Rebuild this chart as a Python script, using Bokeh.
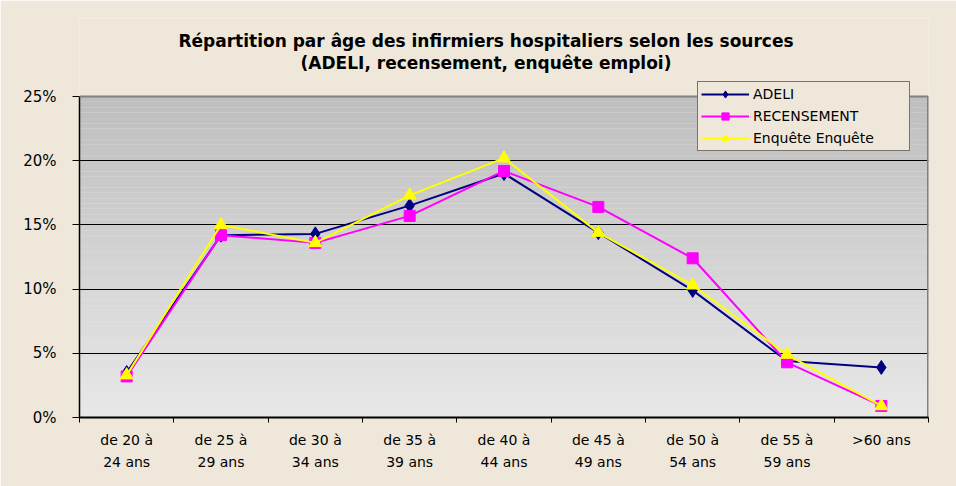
import numpy as np
from bokeh.plotting import figure
from bokeh.models import (FixedTicker, PrintfTickFormatter, Legend, LegendItem, Label, Span, Range1d)
from bokeh.embed import file_html
from bokeh.resources import INLINE

# ---- data ----
categories = ["de 20 à 24 ans", "de 25 à 29 ans", "de 30 à 34 ans", "de 35 à 39 ans",
              "de 40 à 44 ans", "de 45 à 49 ans", "de 50 à 54 ans", "de 55 à 59 ans", ">60 ans"]
tick_labels = ["de 20 à\n24 ans", "de 25 à\n29 ans", "de 30 à\n34 ans", "de 35 à\n39 ans",
               "de 40 à\n44 ans", "de 45 à\n49 ans", "de 50 à\n54 ans", "de 55 à\n59 ans", ">60 ans"]
adeli = [3.5, 14.2, 14.3, 16.5, 19.0, 14.4, 9.9, 4.4, 3.9]
recensement = [3.2, 14.2, 13.6, 15.7, 19.2, 16.4, 12.4, 4.3, 0.9]
enquete = [3.3, 15.0, 13.6, 17.3, 20.2, 14.4, 10.3, 4.9, 0.9]
series_names = ["ADELI", "RECENSEMENT", "Enquête Enquête"]
y_ticks = [0, 5, 10, 15, 20, 25]
y_max = 25
title_line1 = "Répartition par âge des infirmiers hospitaliers selon les sources"
title_line2 = "(ADELI, recensement, enquête emploi)"

FONT = "DejaVu Sans"
BEIGE = "#EFE8DA"

# ---- layout (pixels) ----
W, H = 956, 486
MB_LEFT, MB_RIGHT, MB_TOP, MB_BOTTOM = 79, 28, 18, 69
PLOT_PX = 321                      # pixel height of the 0..25% plot area
frame_px = H - MB_TOP - MB_BOTTOM
px_per_unit = PLOT_PX / y_max
y_end = frame_px / px_per_unit     # frame extended above plot area for title/legend

n = len(categories)
xs = list(range(n))

p = figure(width=W, height=H, output_backend="svg", toolbar_location=None,
           x_range=Range1d(-0.5, n - 0.5), y_range=Range1d(0, y_end),
           min_border_left=MB_LEFT, min_border_right=MB_RIGHT,
           min_border_top=MB_TOP, min_border_bottom=MB_BOTTOM)
p.border_fill_color = BEIGE
p.background_fill_color = BEIGE
p.outline_line_color = None

# gradient background of the plot area (decoration)
nb = 60
edges = np.linspace(0, y_max, nb + 1)
top_rgb = np.array([190, 190, 190])
bot_rgb = np.array([232, 232, 232])
cols = []
for i in range(nb):
    t = (i + 0.5) / nb
    c = bot_rgb + (top_rgb - bot_rgb) * t
    cols.append("#%02x%02x%02x" % tuple(int(round(v)) for v in c))
p.quad(left=-0.5, right=n - 0.5, bottom=edges[:-1], top=edges[1:], fill_color=cols,
       line_color=None, level="image")

# grid
p.xgrid.visible = False
p.ygrid.ticker = FixedTicker(ticks=y_ticks[:-1])
p.ygrid.grid_line_color = "#000000"
p.ygrid.grid_line_width = 1

# plot-area top and right borders (grey)
p.add_layout(Span(location=y_max, dimension="width", line_color="#808080", line_width=2))
p.segment(x0=[n - 0.5], y0=[0], x1=[n - 0.5], y1=[y_max], line_color="#808080", line_width=3)

# axes
p.yaxis.bounds = (0, y_max)
p.yaxis.ticker = FixedTicker(ticks=y_ticks)
p.yaxis.formatter = PrintfTickFormatter(format="%d%%")
p.yaxis.major_tick_out = 7
p.yaxis.major_tick_in = 0
p.yaxis.minor_tick_line_color = None
p.yaxis.axis_line_color = "#000000"
p.yaxis.axis_line_width = 1.5
p.yaxis.major_tick_line_color = "#000000"
p.yaxis.major_label_text_font = FONT
p.yaxis.major_label_text_font_size = "15px"
p.yaxis.major_label_text_color = "#000000"
p.yaxis.major_label_standoff = 16

bounds = [i - 0.5 for i in range(n + 1)]
p.xaxis.ticker = FixedTicker(ticks=xs, minor_ticks=bounds)
p.xaxis.major_label_overrides = {i: tick_labels[i] for i in xs}
p.xaxis.major_tick_out = 0
p.xaxis.major_tick_in = 0
p.xaxis.minor_tick_out = 5
p.xaxis.minor_tick_in = 0
p.xaxis.minor_tick_line_color = "#000000"
p.xaxis.axis_line_color = "#000000"
p.xaxis.axis_line_width = 2
p.xaxis.major_label_text_font = FONT
p.xaxis.major_label_text_font_size = "14px"
p.xaxis.major_label_text_color = "#000000"
p.xaxis.major_label_text_line_height = 1.4
p.xaxis.major_label_standoff = 9

# series
items = []
l1 = p.line(xs, adeli, line_color="#000080", line_width=2)
m1 = p.scatter(xs, adeli, marker="diamond", size=14,
               fill_color="#000080", line_color="#000080")
items.append(LegendItem(label=series_names[0], renderers=[l1, m1]))
l2 = p.line(xs, recensement, line_color="#FF00FF", line_width=2)
m2 = p.scatter(xs, recensement, marker="square", size=11,
               fill_color="#FF00FF", line_color="#FF00FF")
items.append(LegendItem(label=series_names[1], renderers=[l2, m2]))
l3 = p.line(xs, enquete, line_color="#FFFF00", line_width=2)
m3 = p.scatter(xs, enquete, marker="triangle", size=13,
               fill_color="#FFFF00", line_color="#FFFF00")
items.append(LegendItem(label=series_names[2], renderers=[l3, m3]))

legend = Legend(items=items, location=(618, 266))
legend.background_fill_color = BEIGE
legend.background_fill_alpha = 1
legend.border_line_color = "#000000"
legend.border_line_width = 1
legend.label_text_font = FONT
legend.label_text_font_size = "14px"
legend.label_text_color = "#000000"
legend.glyph_width = 48
legend.glyph_height = 18
legend.label_height = 18
legend.label_width = 153
legend.label_standoff = 4
legend.spacing = 4
legend.padding = 3
legend.margin = 0
p.add_layout(legend, "center")

# two-line title, placed in the space above the plot area
x_mid = (n - 1) / 2
for txt, px_above in [(title_line1, 377), (title_line2, 355)]:
    p.add_layout(Label(x=x_mid, y=px_above / px_per_unit, x_offset=-18, text=txt,
                       text_align="center", text_baseline="middle", text_font=FONT,
                       text_font_size="17px", text_font_style="bold", text_color="#000000"))

open("out.html", "w").write(file_html(p, INLINE))
